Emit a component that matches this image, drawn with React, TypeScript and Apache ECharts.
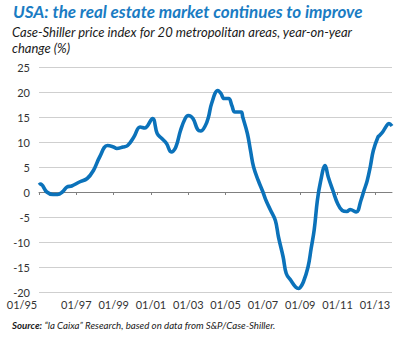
import React, { useEffect, useRef } from "react";
import * as echarts from "echarts";

// Observation month (YYYY-MM) and year-on-year change (%)
const dates: string[] = [
  "1995-01", "1995-02", "1995-06", "1995-10", "1996-01", "1996-04", "1996-07", "1996-10",
  "1997-03", "1997-08", "1997-12", "1998-04", "1998-09", "1999-01", "1999-03", "1999-07",
  "1999-10", "2000-02", "2000-06", "2000-09", "2001-02", "2001-05", "2001-08", "2001-11",
  "2002-02", "2002-05", "2002-08", "2002-11", "2003-01", "2003-04", "2003-07", "2003-09",
  "2003-12", "2004-02", "2004-04", "2004-08", "2004-10", "2004-12", "2005-03", "2005-05",
  "2005-07", "2005-11", "2005-12", "2006-03", "2006-05", "2006-07", "2006-10", "2007-01",
  "2007-03", "2007-06", "2007-09", "2007-11", "2008-02", "2008-04", "2008-07", "2008-10",
  "2008-12", "2009-01", "2009-03", "2009-06", "2009-08", "2009-10", "2009-12", "2010-02",
  "2010-05", "2010-07", "2010-10", "2011-01", "2011-04", "2011-07", "2011-09", "2012-01",
  "2012-04", "2012-06", "2012-08", "2012-10", "2012-12", "2013-03", "2013-04", "2013-06",
  "2013-08", "2013-10", "2013-12",
];
const values: number[] = [
  1.4, 1.6, 0.0, -0.5, -0.5, 0.0, 1.0, 1.2,
  2.0, 2.7, 4.3, 7.0, 9.3, 9.0, 8.7, 9.0,
  9.3, 11.0, 13.0, 12.8, 14.7, 11.7, 10.7, 9.7,
  8.0, 9.0, 12.3, 14.7, 15.3, 14.7, 12.5, 12.2,
  13.3, 15.0, 17.7, 20.3, 19.7, 18.7, 18.7, 17.3,
  16.0, 16.0, 15.0, 11.7, 8.3, 5.0, 2.3, 0.0,
  -1.7, -3.7, -5.7, -9.0, -13.0, -16.3, -17.7, -19.0,
  -19.3, -19.1, -18.0, -15.0, -11.3, -7.5, -1.7, 2.0,
  5.3, 3.0, 0.3, -2.3, -3.7, -3.9, -3.5, -4.0,
  -1.7, 0.3, 2.2, 5.0, 8.3, 11.0, 11.3, 12.0,
  13.0, 13.7, 13.2,
];
const tickYears: number[] = [1995, 1997, 1999, 2001, 2003, 2005, 2007, 2009, 2011, 2013];
const yTicks = { min: -20, max: 25, step: 5 };

const titleText = "USA: the real estate market continues to improve";
const subtitleText = "Case-Shiller price index for 20 metropolitan areas, year-on-year\nchange (%)";

const BASE_YEAR = 1995;
const toIndex = (d: string) => {
  const [y, m] = d.split("-").map(Number);
  return (y - BASE_YEAR) * 12 + (m - 1);
};

const FONT = "Lato";
const BLUE = "#0b72ba";

export default function App() {
  const ref = useRef<HTMLDivElement>(null);
  useEffect(() => {
    if (!ref.current) return;
    const chart = echarts.init(ref.current, undefined, { renderer: "svg" });
    const tickVals = tickYears.map((y) => (y - BASE_YEAR) * 12);
    const xMax = (2013 - BASE_YEAR) * 12 + 11;
    const fmt = (v: number) => {
      const yr = BASE_YEAR + Math.round(v / 12);
      const s = "01/" + String(yr % 100).padStart(2, "0");
      return v === 0 ? "{first|" + s + "}" : s;
    };
    chart.setOption({
      animation: false,
      textStyle: { fontFamily: FONT },
      title: [
        {
          text: titleText,
          left: 13,
          top: 3,
          padding: 0,
          textStyle: { fontFamily: FONT, fontSize: 17, fontWeight: "bold", fontStyle: "italic", color: "#1a7cc3" },
        },
        {
          text: subtitleText,
          left: 12,
          top: 24,
          padding: 0,
          textStyle: { fontFamily: FONT, fontSize: 13, fontWeight: "normal", fontStyle: "italic", color: "#1a1a1a", lineHeight: 16 },
        },
        {
          text: "{b|Source:} \u201Cla Caixa\u201D Research, based on data from S&P/Case-Shiller.",
          left: 12,
          top: 320,
          padding: 0,
          textStyle: {
            fontFamily: FONT,
            fontSize: 9.7,
            fontWeight: "normal",
            fontStyle: "italic",
            color: "#1a1a1a",
            rich: { b: { fontFamily: FONT, fontSize: 9.7, fontWeight: "bold", fontStyle: "italic", color: "#1a1a1a" } },
          },
        },
      ],
      grid: { left: 39, right: 6, top: 67, bottom: 46, containLabel: false },
      xAxis: [
        {
          type: "value",
          min: 0,
          max: xMax,
          interval: 24,
          position: "bottom",
          axisLine: { show: false, onZero: false },
          axisTick: { show: false },
          splitLine: { show: false },
          axisLabel: {
            customValues: tickVals,
            formatter: fmt,
            fontSize: 11,
            color: "#333",
            margin: 7,
            rich: { first: { fontSize: 11, color: "#333", fontFamily: FONT, padding: [0, 34, 0, 0] } },
          },
        },
        {
          type: "value",
          min: 0,
          max: xMax,
          interval: 24,
          axisLine: { show: true, onZero: true, lineStyle: { color: "#808080", width: 1 } },
          axisTick: { show: true, inside: true, length: 3, customValues: tickVals, lineStyle: { color: "#808080" } },
          axisLabel: { show: false },
          splitLine: { show: false },
        },
      ],
      yAxis: {
        type: "value",
        min: yTicks.min,
        max: yTicks.max,
        interval: yTicks.step,
        axisLine: { show: false },
        axisTick: { show: false },
        axisLabel: { fontSize: 11, color: "#333", margin: 9 },
        splitLine: { lineStyle: { color: "#cfcfcf", width: 1 } },
      },
      series: [
        {
          type: "line",
          xAxisIndex: 0,
          data: dates.map((d, i) => [toIndex(d), values[i]]),
          smooth: 0.4,
          showSymbol: false,
          lineStyle: { color: BLUE, width: 3.6 },
          z: 3,
        },
      ],
    });
    return () => chart.dispose();
  }, []);
  return <div ref={ref} style={{ position: "fixed", left: 0, top: 0, width: 398, height: 338, background: "#fff" }} />;
}
